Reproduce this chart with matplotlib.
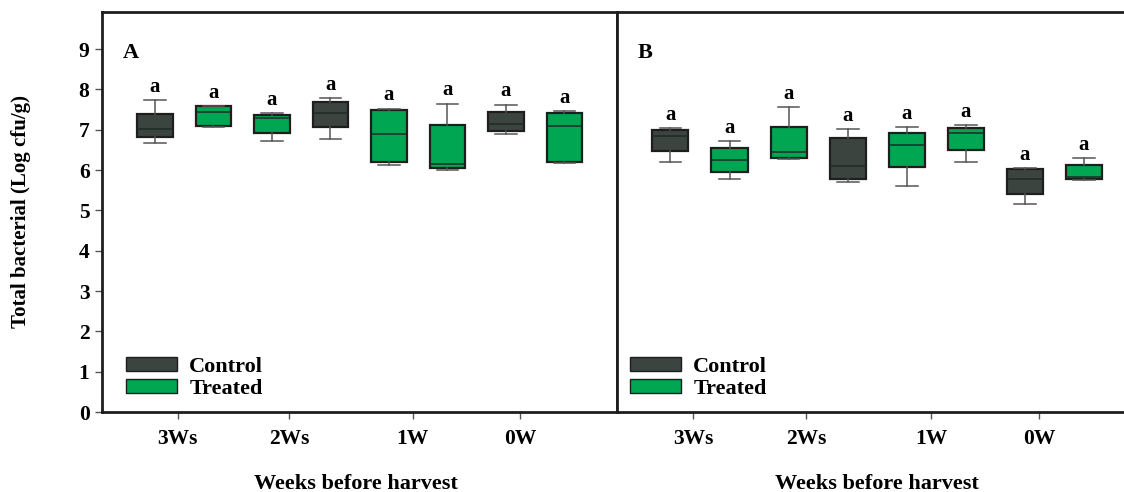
import matplotlib.pyplot as plt
from matplotlib.patches import Patch

plt.rcParams['font.family'] = ['Liberation Serif', 'DejaVu Serif']
plt.rcParams['font.weight'] = 'bold'

dark = '#3c4440'
green = '#00a651'

weeks = ['3Ws', '2Ws', '1W', '0W']
box_colors = [dark, green, green, dark, green, green, dark, green]

# panel A (Log cfu/g), 8 boxes left to right
a_lo = [6.68, 7.07, 6.72, 6.76, 6.12, 5.99, 6.90, 6.17]
a_q1 = [6.83, 7.10, 6.93, 7.06, 6.20, 6.06, 6.96, 6.20]
a_med = [7.02, 7.43, 7.28, 7.41, 6.89, 6.16, 7.15, 7.09]
a_q3 = [7.38, 7.58, 7.36, 7.70, 7.48, 7.12, 7.44, 7.42]
a_hi = [7.74, 7.58, 7.41, 7.78, 7.52, 7.65, 7.62, 7.46]

# panel B
b_lo = [6.21, 5.79, 6.27, 5.70, 5.61, 6.19, 5.16, 5.75]
b_q1 = [6.47, 5.94, 6.29, 5.79, 6.07, 6.50, 5.41, 5.79]
b_med = [6.84, 6.24, 6.45, 6.11, 6.63, 6.92, 5.77, 5.84]
b_q3 = [7.00, 6.55, 7.07, 6.79, 6.93, 7.05, 6.02, 6.13]
b_hi = [7.04, 6.71, 7.56, 7.01, 7.07, 7.12, 6.04, 6.29]

letters = ['a'] * 8
tick_pos = [0.39, 2.3, 4.41, 6.24]

fig = plt.figure(figsize=(11.24, 4.92), dpi=100)
axA = fig.add_axes([102 / 1124, 80 / 492, 515 / 1124, 400 / 492])
axB = fig.add_axes([617 / 1124, 80 / 492, 520 / 1124, 400 / 492])


def panel(ax, lo, q1, med, q3, hi, tag, leg_x):
    stats = []
    for i in range(8):
        stats.append(dict(whislo=lo[i], q1=q1[i], med=med[i], q3=q3[i],
                          whishi=hi[i], fliers=[]))
    bp = ax.bxp(stats, positions=range(8), widths=0.61, capwidths=0.37,
                patch_artist=True, showfliers=False,
                boxprops=dict(edgecolor='#1e1e1e', linewidth=1.6),
                medianprops=dict(color='#1f2b26', linewidth=1.1),
                whiskerprops=dict(color='#555555', linewidth=1.1),
                capprops=dict(color='#555555', linewidth=1.1))
    for patch, c in zip(bp['boxes'], box_colors):
        patch.set_facecolor(c)
    for i in range(8):
        ax.annotate(letters[i], (i, hi[i]), xytext=(0, 6),
                    textcoords='offset points', ha='center', va='baseline',
                    fontsize=15, fontweight='bold')
    ax.set_xlim(-0.905, 7.9)
    ax.set_ylim(0, 9.92)
    ax.set_xticks(tick_pos)
    ax.set_xticklabels(weeks, fontsize=15.5, fontweight='bold')
    ax.tick_params(axis='x', length=5, width=1, color='#555555', pad=7)
    ax.set_xlabel('Weeks before harvest', fontsize=16, fontweight='bold')
    ax.xaxis.set_label_coords(0.494 if tag == 'A' else 0.5, -0.155)
    ax.text(0.04, 0.897, tag, transform=ax.transAxes, fontsize=16,
            fontweight='bold', va='center')
    for s in ax.spines.values():
        s.set_linewidth(2)
        s.set_color('#1e1e1e')
    ax.legend(handles=[Patch(facecolor=dark, edgecolor='#1e1e1e', label='Control'),
                       Patch(facecolor=green, edgecolor='#1e1e1e', label='Treated')],
              loc='upper left', bbox_to_anchor=(leg_x, 0.138), frameon=False,
              fontsize=16, handlelength=2.3, handleheight=0.6,
              labelspacing=0.1, handletextpad=0.55, borderaxespad=0,
              borderpad=0)


panel(axA, a_lo, a_q1, a_med, a_q3, a_hi, 'A', 24 / 515)
panel(axB, b_lo, b_q1, b_med, b_q3, b_hi, 'B', 13 / 520)

axA.set_yticks(range(10))
axA.set_yticklabels([str(v) for v in range(10)], fontsize=15.5, fontweight='bold')
axA.tick_params(axis='y', length=5, width=1, color='#555555', pad=4,
                right=True, direction='out')
axA.set_ylabel('Total bacterial (Log cfu/g)', fontsize=15, fontweight='bold')
axA.yaxis.set_label_coords(-0.138, 0.5)
axB.set_yticks([])
axB.spines['right'].set_visible(False)

fig.savefig('out.png', dpi=100)
